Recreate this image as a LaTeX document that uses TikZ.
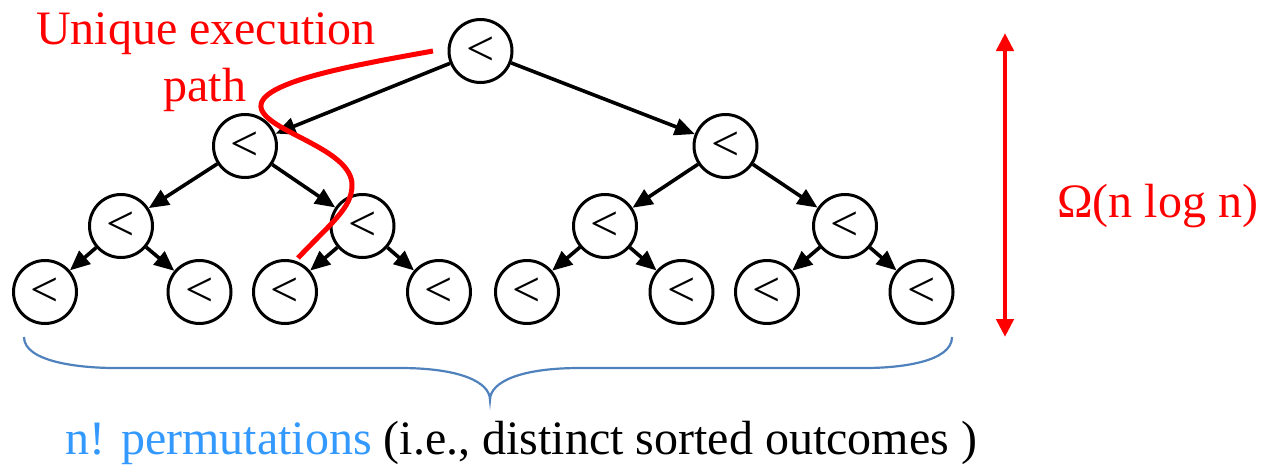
\documentclass[tikz,border=0pt]{standalone}
\usepackage{fontspec}
\setmainfont{Liberation Serif}
\newfontfamily\tms{Liberation Serif}
\usetikzlibrary{arrows.meta}
\definecolor{pathred}{RGB}{255,0,0}
\definecolor{permblue}{RGB}{51,153,255}
\definecolor{bracecol}{RGB}{79,129,189}
\tikzset{
  cmp/.style={circle,draw=black,line width=3pt,minimum size=63pt,inner sep=0pt,
    font=\tms\fontsize{50}{50}\selectfont},
  edge/.style={line width=3.6pt,-{Triangle[length=20pt,width=17pt]}},
  bigtxt/.style={font=\tms\fontsize{48}{57}\selectfont,inner sep=0pt}
}
\begin{document}
\begin{tikzpicture}[x=1pt,y=-1pt]
\useasboundingbox (0,0) rectangle (1261,464);
% nodes
\node[cmp] (r) at (480.5,51) {<};
\node[cmp] (a) at (245,146) {<};
\node[cmp] (b) at (725.5,146) {<};
\node[cmp] (c) at (121,226) {<};
\node[cmp] (d) at (362.5,226) {<};
\node[cmp] (e) at (605,226) {<};
\node[cmp] (f) at (845,226) {<};
\node[cmp] (l1) at (45,292) {<};
\node[cmp] (l2) at (199.5,292) {<};
\node[cmp] (l3) at (285,292) {<};
\node[cmp] (l4) at (439,292) {<};
\node[cmp] (l5) at (527,292) {<};
\node[cmp] (l6) at (681.5,292) {<};
\node[cmp] (l7) at (767,292) {<};
\node[cmp] (l8) at (921.5,292) {<};
% edges
\draw[edge] (r) -- (a);
\draw[edge] (r) -- (b);
\draw[edge] (a) -- (c);
\draw[edge] (a) -- (d);
\draw[edge] (b) -- (e);
\draw[edge] (b) -- (f);
\draw[edge] (c) -- (l1);
\draw[edge] (c) -- (l2);
\draw[edge] (d) -- (l3);
\draw[edge] (d) -- (l4);
\draw[edge] (e) -- (l5);
\draw[edge] (e) -- (l6);
\draw[edge] (f) -- (l7);
\draw[edge] (f) -- (l8);
% red execution path
\coordinate (p0) at (433,51);
\coordinate (p1) at (265,115);
\coordinate (p2) at (352,185);
\coordinate (p3) at (298,258);
\draw[pathred,line width=5pt] (p0) .. controls (350,66) and (238,85) .. (p1)
  .. controls (282,135) and (352,152) .. (p2)
  .. controls (352,208) and (332,222) .. (p3);
% labels
\node[bigtxt,text=pathred,anchor=base] (lbl1) at (206,44) {Unique execution};
\node[bigtxt,text=pathred,anchor=base] (lbl2) at (205,101) {path};
% height arrow
\coordinate (h1) at (1005,33);
\coordinate (h2) at (1005,337);
\draw[pathred,line width=4.5pt,{Triangle[length=18pt,width=17pt]}-{Triangle[length=18pt,width=17pt]}] (h1) -- (h2);
\node[bigtxt,text=pathred,anchor=base west] (om) at (1057,217) {Ω(n log n)};
% brace
\coordinate (bl) at (24,337);
\coordinate (bm) at (490,400);
\coordinate (br) at (952,337);
\draw[bracecol,line width=2.2pt] (bl) .. controls (24,362) and (80,368) .. (115,368)
  -- (400,368) .. controls (460,368) and (490,382) .. (bm)
  .. controls (490,382) and (520,368) .. (580,368)
  -- (865,368) .. controls (900,368) and (952,362) .. (br);
\node[bigtxt,anchor=base west] (perm) at (65,454) {\textcolor{permblue}{n! permutations} (i.e., distinct sorted outcomes )};
\end{tikzpicture}
\end{document}
